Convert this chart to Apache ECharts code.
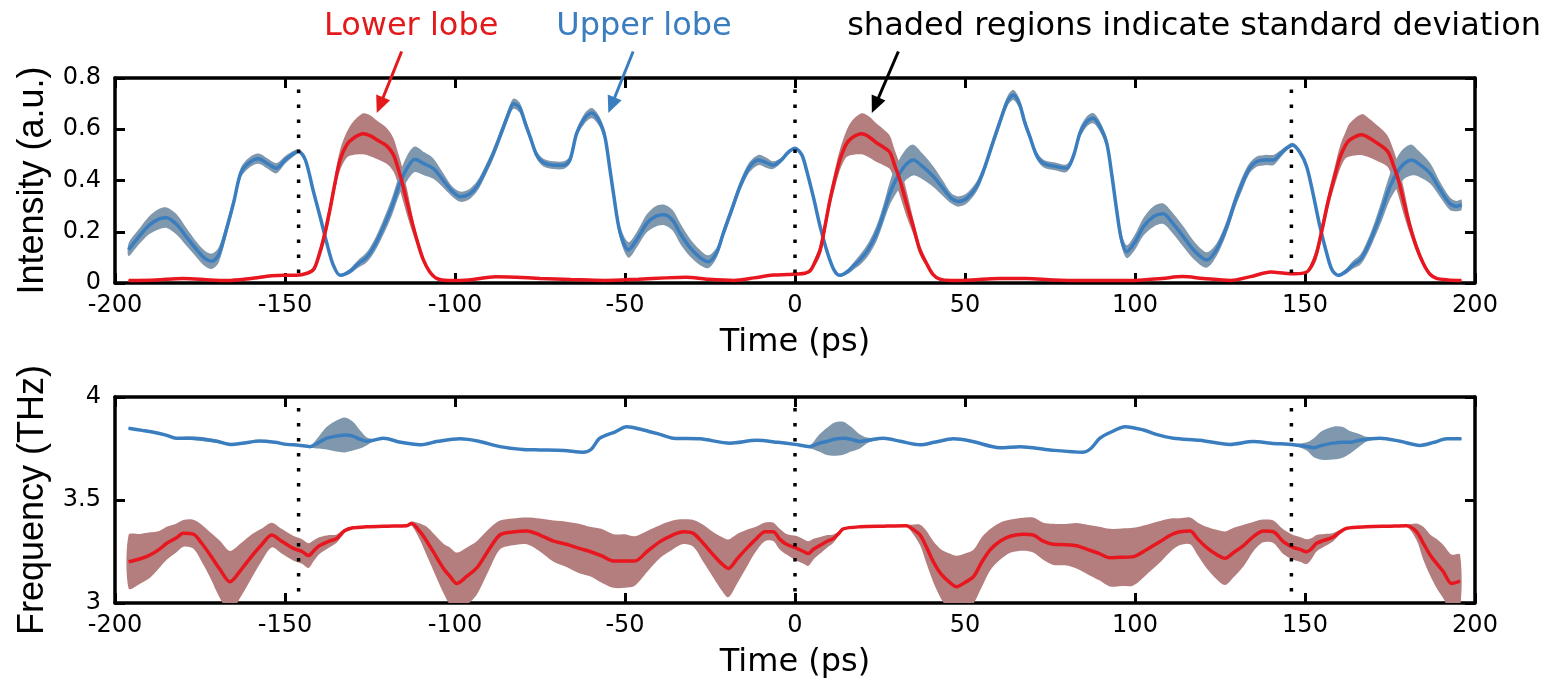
<!DOCTYPE html>
<html>
<head>
<meta charset="utf-8">
<script src="https://cdn.jsdelivr.net/npm/echarts@6/dist/echarts.min.js"></script>
<style>
  html, body { margin: 0; padding: 0; background: #fff; }
  #main { width: 1560px; height: 687px; }
</style>
</head>
<body>
<div id="main"></div>
<script>
// each row: [time (ps), mean, standard deviation]
var intensityUpper = [
  [-196,0.13,0.025],[-193,0.18,0.03],[-190,0.225,0.035],[-187,0.25,0.04],[-184.8,0.255,0.04],[-182,0.23,0.04],
  [-179,0.18,0.035],[-176,0.13,0.03],[-173.5,0.095,0.03],[-171.5,0.085,0.03],[-169.5,0.11,0.03],[-167,0.22,0.025],
  [-165,0.32,0.02],[-163,0.43,0.02],[-160.5,0.47,0.02],[-157.8,0.485,0.02],[-155,0.465,0.02],[-152.5,0.448,0.02],
  [-150,0.48,0.015],[-148,0.5,0.012],[-146,0.513,0.008],[-144,0.48,0.005],[-141.7,0.36,0.005],[-139.5,0.25,0.005],
  [-137.7,0.155,0.005],[-135.8,0.07,0.005],[-133.8,0.03,0.005],[-131,0.045,0.01],[-128.5,0.075,0.015],[-126,0.1,0.02],
  [-123.5,0.15,0.025],[-121,0.22,0.03],[-118.5,0.3,0.035],[-116.2,0.39,0.04],[-114,0.45,0.05],[-111.8,0.483,0.05],
  [-109,0.465,0.045],[-106.5,0.448,0.04],[-104,0.41,0.03],[-101,0.36,0.02],[-98.5,0.337,0.02],[-96,0.345,0.02],
  [-93.6,0.376,0.02],[-91,0.44,0.02],[-88.7,0.507,0.02],[-86,0.6,0.02],[-84,0.67,0.02],[-82.8,0.7,0.02],
  [-81,0.685,0.02],[-79.5,0.63,0.02],[-77.9,0.57,0.015],[-76,0.5,0.015],[-74,0.47,0.015],[-71,0.46,0.015],
  [-68,0.46,0.015],[-66.2,0.48,0.015],[-64.2,0.585,0.015],[-62,0.64,0.02],[-59.8,0.663,0.02],[-57.5,0.63,0.02],
  [-55.9,0.57,0.02],[-54.5,0.45,0.02],[-53.4,0.35,0.025],[-51.5,0.2,0.025],[-49,0.129,0.03],[-46.5,0.17,0.03],
  [-43.6,0.233,0.035],[-41,0.26,0.04],[-38.7,0.266,0.04],[-36,0.245,0.04],[-33.8,0.194,0.04],[-31,0.14,0.035],
  [-28,0.1,0.03],[-25.5,0.083,0.025],[-23,0.12,0.02],[-21.1,0.194,0.02],[-18.5,0.29,0.02],[-16.2,0.376,0.02],
  [-13.5,0.45,0.02],[-10.8,0.48,0.02],[-8.5,0.47,0.02],[-6.4,0.46,0.015],[-4,0.48,0.01],[-2,0.51,0.008],
  [0,0.526,0.005],[2,0.5,0.005],[3.4,0.44,0.005],[5.5,0.33,0.005],[7.4,0.22,0.005],[9.5,0.12,0.005],
  [11.5,0.05,0.005],[13.2,0.03,0.005],[15.5,0.045,0.01],[17.5,0.07,0.015],[19.1,0.09,0.02],[21.5,0.13,0.025],
  [24,0.194,0.03],[26,0.27,0.035],[27.9,0.35,0.045],[30,0.41,0.055],[32.5,0.46,0.06],[34.8,0.48,0.06],
  [37.5,0.455,0.05],[40.7,0.415,0.04],[43.5,0.37,0.03],[46,0.33,0.02],[48,0.318,0.02],[50.5,0.33,0.02],
  [53.4,0.376,0.02],[55.5,0.44,0.02],[58,0.54,0.02],[60.3,0.63,0.02],[62.5,0.71,0.02],[64.2,0.734,0.02],
  [66,0.7,0.02],[67.5,0.63,0.02],[69.1,0.57,0.015],[71,0.5,0.015],[73,0.467,0.015],[76.5,0.455,0.015],
  [79.9,0.448,0.015],[82,0.5,0.015],[83.8,0.585,0.02],[85.8,0.63,0.02],[87.7,0.643,0.02],[89.7,0.61,0.02],
  [91.7,0.545,0.02],[93.2,0.42,0.02],[94.6,0.285,0.025],[96,0.17,0.025],[97.6,0.122,0.025],[100,0.16,0.03],
  [102.5,0.22,0.035],[105.5,0.26,0.04],[108.3,0.27,0.04],[111,0.235,0.04],[114.2,0.181,0.04],[117.5,0.125,0.035],
  [121.1,0.09,0.03],[124,0.13,0.025],[127,0.22,0.025],[129.5,0.32,0.025],[131.9,0.4,0.025],[133.8,0.45,0.02],
  [135.8,0.474,0.02],[138.3,0.48,0.02],[140.7,0.48,0.02],[142.5,0.5,0.015],[144.5,0.525,0.01],[146.4,0.539,0.008],
  [148.5,0.51,0.005],[150.5,0.454,0.005],[152.5,0.34,0.005],[154.4,0.22,0.005],[156.5,0.11,0.005],[158,0.05,0.005],
  [159.8,0.03,0.005],[162,0.045,0.01],[164,0.07,0.015],[166.2,0.09,0.02],[168,0.13,0.025],[170.1,0.194,0.03],
  [172.5,0.28,0.04],[175,0.376,0.05],[177.5,0.44,0.06],[179.5,0.47,0.06],[181.4,0.48,0.06],[183.5,0.465,0.05],
  [186.8,0.428,0.04],[189.5,0.37,0.03],[192.6,0.31,0.025],[194.5,0.3,0.02],[196,0.305,0.02]
];

var intensityLower = [
  [-196,0.01,0.003],[-188,0.012,0.003],[-180,0.018,0.003],[-172,0.012,0.003],[-167,0.01,0.003],[-160,0.018,0.003],
  [-154,0.028,0.003],[-150,0.03,0.003],[-146.7,0.03,0.003],[-143.5,0.038,0.004],[-141.5,0.055,0.01],[-140.2,0.1,0.02],
  [-138.5,0.18,0.03],[-136.8,0.285,0.03],[-135.3,0.39,0.03],[-133.8,0.48,0.04],[-131.8,0.54,0.05],[-129.9,0.565,0.065],
  [-127,0.582,0.08],[-125,0.575,0.08],[-123,0.559,0.075],[-120.1,0.535,0.07],[-118.1,0.5,0.065],[-116.8,0.45,0.06],
  [-115.7,0.4,0.06],[-114,0.31,0.05],[-112.3,0.22,0.03],[-110.8,0.15,0.02],[-109.3,0.09,0.012],[-107.5,0.045,0.006],
  [-105.4,0.018,0.003],[-102,0.01,0.003],[-96,0.012,0.003],[-88,0.024,0.003],[-82,0.022,0.003],[-75,0.018,0.003],
  [-66,0.014,0.003],[-56,0.01,0.003],[-46,0.015,0.003],[-38,0.02,0.003],[-32,0.022,0.003],[-26,0.015,0.003],
  [-18,0.01,0.003],[-12,0.02,0.003],[-6.4,0.031,0.003],[-2,0.033,0.003],[0,0.035,0.003],[3,0.038,0.004],
  [4.6,0.05,0.01],[5.8,0.08,0.015],[7.4,0.129,0.025],[8.8,0.22,0.03],[10.3,0.324,0.03],[11.8,0.41,0.035],
  [13.2,0.48,0.04],[15,0.54,0.05],[16.6,0.565,0.065],[19.6,0.582,0.08],[21.8,0.57,0.08],[24,0.547,0.075],
  [26,0.53,0.07],[27.9,0.51,0.065],[29.3,0.46,0.06],[30.9,0.4,0.06],[32.8,0.31,0.05],[34.8,0.22,0.03],
  [36.7,0.13,0.02],[38.7,0.076,0.012],[40.5,0.035,0.006],[42.6,0.015,0.003],[46,0.01,0.003],[52,0.012,0.003],
  [60,0.018,0.003],[68,0.018,0.003],[76,0.012,0.003],[85,0.01,0.003],[95,0.01,0.003],[100,0.01,0.003],
  [108,0.018,0.003],[114,0.025,0.003],[120,0.018,0.003],[128,0.01,0.003],[134,0.025,0.003],[140,0.043,0.003],
  [144,0.038,0.003],[147,0.036,0.003],[150.5,0.043,0.004],[152,0.07,0.015],[153.4,0.116,0.025],[155.2,0.22,0.03],
  [156.9,0.324,0.03],[158.6,0.41,0.035],[160.3,0.49,0.045],[161.8,0.535,0.05],[163.2,0.559,0.065],[166.7,0.579,0.08],
  [169,0.565,0.075],[171.1,0.547,0.07],[173,0.53,0.065],[174.5,0.51,0.06],[176,0.46,0.06],[177.5,0.4,0.06],
  [179.2,0.31,0.05],[180.9,0.22,0.03],[182.8,0.14,0.02],[184.8,0.076,0.012],[186.7,0.035,0.006],[188.7,0.018,0.003],
  [192,0.012,0.003],[196,0.01,0.003]
];

var frequencyUpper = [
  [-196,3.848,0.004],[-192,3.838,0.004],[-189,3.83,0.004],[-185,3.815,0.004],[-182,3.8,0.005],[-178,3.8,0.008],
  [-174,3.795,0.01],[-170,3.785,0.008],[-166,3.77,0.005],[-162,3.777,0.004],[-157.4,3.786,0.004],[-153,3.78,0.004],
  [-149.5,3.77,0.004],[-146,3.766,0.004],[-142.6,3.759,0.006],[-140,3.78,0.03],[-137.7,3.8,0.055],[-135,3.81,0.075],
  [-132.4,3.816,0.085],[-130,3.81,0.07],[-128,3.795,0.045],[-126,3.785,0.02],[-124,3.79,0.006],[-121,3.8,0.004],
  [-116,3.78,0.004],[-110.3,3.768,0.004],[-105,3.785,0.004],[-98.5,3.797,0.004],[-93,3.785,0.004],[-86.8,3.759,0.004],
  [-80,3.745,0.004],[-75,3.743,0.004],[-68,3.74,0.004],[-62.3,3.732,0.004],[-60,3.745,0.004],[-57.4,3.8,0.004],
  [-53,3.83,0.004],[-49.5,3.856,0.004],[-44.6,3.84,0.004],[-40,3.82,0.004],[-35.8,3.8,0.004],[-27.9,3.797,0.004],
  [-19.1,3.776,0.004],[-11.3,3.79,0.004],[-5,3.78,0.004],[0,3.77,0.004],[4.4,3.759,0.008],[7,3.775,0.04],
  [9.3,3.784,0.065],[11.5,3.795,0.08],[14.2,3.8,0.08],[16.5,3.795,0.06],[19,3.784,0.035],[21.5,3.79,0.012],
  [26,3.8,0.004],[31,3.785,0.004],[36.8,3.768,0.004],[41,3.78,0.004],[46.6,3.797,0.004],[52,3.785,0.004],
  [60.3,3.754,0.004],[66.2,3.759,0.004],[75,3.743,0.004],[84.8,3.732,0.004],[87,3.75,0.004],[89.7,3.8,0.004],
  [93,3.83,0.004],[97.1,3.856,0.004],[102.5,3.84,0.004],[106,3.82,0.004],[111.3,3.8,0.004],[119.1,3.79,0.004],
  [127.9,3.77,0.004],[134.8,3.784,0.004],[140,3.776,0.004],[146.6,3.768,0.004],[150.5,3.76,0.02],[152.5,3.754,0.045],
  [155,3.765,0.07],[158.3,3.776,0.08],[161,3.78,0.075],[163.2,3.78,0.055],[166,3.79,0.03],[168,3.795,0.012],
  [172.1,3.8,0.004],[178,3.785,0.004],[183.8,3.765,0.004],[188,3.78,0.004],[191.7,3.797,0.004],[196,3.797,0.004]
];

var frequencyLower = [
  [-196,3.2,0.13],[-192.5,3.215,0.12],[-189.7,3.233,0.11],[-187,3.26,0.09],[-184.8,3.29,0.08],[-182,3.315,0.07],
  [-179.9,3.338,0.065],[-177,3.334,0.07],[-174.5,3.29,0.09],[-172,3.233,0.11],[-169,3.16,0.14],[-166.2,3.103,0.15],
  [-163,3.16,0.13],[-160.3,3.217,0.11],[-157,3.28,0.08],[-153.9,3.33,0.06],[-151,3.3,0.06],[-147.5,3.265,0.06],
  [-145,3.25,0.06],[-143.1,3.23,0.06],[-141.5,3.255,0.05],[-139.7,3.28,0.04],[-137,3.3,0.03],[-134.8,3.313,0.02],
  [-132.5,3.35,0.01],[-130,3.365,0.005],[-126,3.37,0.004],[-120,3.373,0.004],[-114.2,3.375,0.004],[-112.8,3.386,0.01],
  [-110.3,3.346,0.04],[-108.3,3.3,0.07],[-106.4,3.249,0.09],[-103.4,3.168,0.12],[-101.5,3.13,0.14],[-99.5,3.095,0.15],
  [-96.5,3.13,0.14],[-93.6,3.17,0.13],[-90,3.26,0.1],[-86.8,3.33,0.07],[-83,3.345,0.065],[-78.9,3.35,0.065],
  [-75,3.33,0.08],[-71,3.3,0.1],[-67.2,3.285,0.11],[-63.5,3.265,0.12],[-60.3,3.25,0.12],[-57,3.23,0.13],
  [-53.4,3.204,0.13],[-50,3.204,0.13],[-47.1,3.204,0.12],[-43.5,3.25,0.1],[-39.7,3.298,0.08],[-36,3.33,0.07],
  [-32.9,3.346,0.06],[-29.9,3.338,0.065],[-27,3.29,0.09],[-24,3.233,0.11],[-21.5,3.19,0.13],[-19.6,3.168,0.14],
  [-17,3.215,0.12],[-14.2,3.265,0.09],[-11.5,3.31,0.06],[-8.8,3.346,0.045],[-6.4,3.346,0.045],[-4.5,3.31,0.05],
  [-2.5,3.285,0.05],[0.5,3.265,0.06],[2.5,3.25,0.06],[3.9,3.24,0.06],[5.5,3.262,0.05],[7.4,3.28,0.04],
  [9.5,3.3,0.03],[11.3,3.313,0.02],[13,3.34,0.01],[14.2,3.36,0.005],[19.1,3.37,0.004],[26,3.373,0.004],
  [32.8,3.375,0.005],[34.5,3.36,0.02],[36.8,3.33,0.05],[38.7,3.27,0.08],[40.7,3.2,0.1],[43,3.14,0.12],
  [45.5,3.1,0.14],[47.5,3.079,0.15],[50,3.1,0.14],[52.5,3.128,0.13],[55,3.2,0.12],[57.5,3.26,0.1],
  [60.3,3.3,0.09],[63.5,3.325,0.08],[67.2,3.334,0.08],[70.1,3.33,0.085],[73,3.3,0.09],[76,3.285,0.1],
  [79.5,3.283,0.1],[82.8,3.278,0.11],[86,3.26,0.12],[89.5,3.24,0.13],[92.6,3.22,0.14],[96,3.222,0.14],
  [99.5,3.225,0.14],[103.5,3.26,0.12],[107.4,3.298,0.1],[110.5,3.33,0.08],[113.2,3.346,0.065],[116.2,3.35,0.065],
  [118.5,3.31,0.08],[121,3.27,0.1],[124,3.235,0.12],[126.5,3.217,0.13],[129,3.245,0.12],[132,3.28,0.1],
  [135,3.325,0.07],[137.7,3.35,0.055],[140.7,3.346,0.055],[143.6,3.298,0.06],[146.5,3.27,0.06],[148.5,3.26,0.06],
  [150.5,3.249,0.06],[152,3.265,0.05],[153.4,3.29,0.04],[155.8,3.305,0.03],[158.3,3.32,0.02],[160.3,3.345,0.01],
  [162.3,3.363,0.005],[168.1,3.37,0.004],[175,3.373,0.004],[179.9,3.375,0.006],[182.8,3.346,0.04],[184.8,3.29,0.08],
  [186.8,3.233,0.1],[188.8,3.19,0.12],[190.7,3.152,0.13],[193.1,3.095,0.14],[195.6,3.106,0.13]
];

// pulse period boundaries (dotted lines), in ps
var periodMarks = [-146, 0, 146];
var dotSpanTop = [0.755, 0];
var dotSpanBottom = [3.947, 3];

var timeRange = [-200, 200];
var intensityRange = [0, 0.8];
var frequencyRange = [3, 4];

var RED = '#e8161f', BLUE = '#3a7ec0';
var RED_BAND = '#b47e7e', BLUE_BAND = '#8098ad';
var FONT = 'DejaVu Sans';

var myChart = echarts.init(document.getElementById('main'));

function xAxisOf(grid, pos) {
  var bottom = pos === 'bottom';
  return {
    gridIndex: grid, type: 'value', position: pos,
    min: timeRange[0], max: timeRange[1], interval: 50,
    axisLine: { show: true, onZero: false, lineStyle: { color: '#000', width: 3.5 } },
    axisTick: { show: true, inside: true, length: 10, lineStyle: { color: '#000', width: 3 } },
    axisLabel: { show: bottom, color: '#000', fontSize: 24, fontFamily: FONT, margin: 11 },
    splitLine: { show: false },
    name: bottom ? 'Time (ps)' : '', nameLocation: 'middle', nameGap: 44,
    nameTextStyle: { color: '#000', fontSize: 32, fontFamily: FONT }
  };
}

function yAxisOf(grid, pos, range, interval, title) {
  var left = pos === 'left';
  return {
    gridIndex: grid, type: 'value', position: pos,
    min: range[0], max: range[1], interval: interval,
    axisLine: { show: true, onZero: false, lineStyle: { color: '#000', width: 3.5 } },
    axisTick: { show: true, inside: true, length: 10, lineStyle: { color: '#000', width: 3 } },
    axisLabel: { show: left, color: '#000', fontSize: 24, fontFamily: FONT, margin: 14 },
    splitLine: { show: false },
    name: left ? title : '', nameLocation: 'middle', nameGap: 64,
    nameTextStyle: { color: '#000', fontSize: 36, fontFamily: 'Liberation Sans' }
  };
}

// shaded band (mean +/- std) as one polygon through the axis scales
function band(rows, axis, color) {
  return {
    type: 'custom', xAxisIndex: axis, yAxisIndex: axis, silent: true,
    data: rows.map(function (r) { return [r[0], r[1] - r[2], r[1] + r[2]]; }),
    encode: { x: 0, y: [1, 2] },
    renderItem: function (params, api) {
      if (params.dataIndex !== 0) return null;
      var pts = [];
      rows.forEach(function (r) { pts.push(api.coord([r[0], r[1] + r[2]])); });
      for (var i = rows.length - 1; i >= 0; i--) pts.push(api.coord([rows[i][0], rows[i][1] - rows[i][2]]));
      var cs = params.coordSys;
      return {
        type: 'polygon',
        shape: { points: pts, smooth: 0.3 },
        style: { fill: color },
        clipPath: { type: 'rect', shape: { x: cs.x, y: cs.y, width: cs.width, height: cs.height } }
      };
    }
  };
}

function meanLine(rows, axis, color) {
  return {
    type: 'line', xAxisIndex: axis, yAxisIndex: axis, symbol: 'none', smooth: 0.3, silent: true,
    data: rows.map(function (r) { return [r[0], r[1]]; }),
    lineStyle: { color: color, width: 3.5 }
  };
}

function dotted(axis, span) {
  return periodMarks.map(function (t) {
    return {
      type: 'line', xAxisIndex: axis, yAxisIndex: axis, symbol: 'none', silent: true,
      data: [[t, span[0]], [t, span[1]]],
      lineStyle: { color: '#000', width: 3.5, type: [3.5, 11.5], cap: 'butt' }
    };
  });
}

var series = [].concat(
  [band(intensityLower, 0, RED_BAND), band(intensityUpper, 0, BLUE_BAND)],
  [meanLine(intensityUpper, 0, BLUE), meanLine(intensityLower, 0, RED)],
  dotted(0, dotSpanTop),
  [band(frequencyLower, 1, RED_BAND), band(frequencyUpper, 1, BLUE_BAND)],
  [meanLine(frequencyUpper, 1, BLUE), meanLine(frequencyLower, 1, RED)],
  dotted(1, dotSpanBottom)
);

var option = {
  animation: false,
  backgroundColor: '#fff',
  grid: [
    { left: 115, width: 1360, top: 78, height: 205 },
    { left: 115, width: 1360, top: 397, height: 206 }
  ],
  xAxis: [xAxisOf(0, 'bottom'), xAxisOf(1, 'bottom'), xAxisOf(0, 'top'), xAxisOf(1, 'top')],
  yAxis: [
    yAxisOf(0, 'left', intensityRange, 0.2, 'Intensity (a.u.)'),
    yAxisOf(1, 'left', frequencyRange, 0.5, 'Frequency (THz)'),
    yAxisOf(0, 'right', intensityRange, 0.2, ''),
    yAxisOf(1, 'right', frequencyRange, 0.5, '')
  ],
  series: series
};

myChart.setOption(option);

// annotations, anchored in the top panel's data coordinates
var notes = [
  { text: 'Lower lobe', color: '#e31a1c', at: [-112.9, 1.0], from: [-115.7, 0.9035], to: [-123, 0.663] },
  { text: 'Upper lobe', color: '#3a7ec0', at: [-44.4, 1.0], from: [-47.6, 0.9035], to: [-54.9, 0.663] },
  { text: 'shaded regions indicate standard deviation', color: '#000', at: [117.4, 1.0], from: [30.4, 0.9035], to: [22.6, 0.663] }
];

var graphics = [];
notes.forEach(function (n) {
  var p = myChart.convertToPixel({ gridIndex: 0 }, n.at);
  var a = myChart.convertToPixel({ gridIndex: 0 }, n.from);
  var b = myChart.convertToPixel({ gridIndex: 0 }, n.to);
  graphics.push({
    type: 'text', x: p[0], y: p[1], z: 10,
    style: { text: n.text, fill: n.color, fontSize: 32, fontFamily: FONT, align: 'center', verticalAlign: 'middle' }
  });
  var dx = b[0] - a[0], dy = b[1] - a[1];
  var len = Math.sqrt(dx * dx + dy * dy);
  var ux = dx / len, uy = dy / len;
  var head = 17, half = 7.5;
  var bx = b[0] - ux * head, by = b[1] - uy * head;
  graphics.push({
    type: 'line', z: 10,
    shape: { x1: a[0], y1: a[1], x2: bx + ux * 2, y2: by + uy * 2 },
    style: { stroke: n.color, lineWidth: 3 }
  });
  graphics.push({
    type: 'polygon', z: 10,
    shape: { points: [[b[0], b[1]], [bx - uy * half, by + ux * half], [bx + uy * half, by - ux * half]] },
    style: { fill: n.color }
  });
});

myChart.setOption({ graphic: graphics });
</script>
</body>
</html>
